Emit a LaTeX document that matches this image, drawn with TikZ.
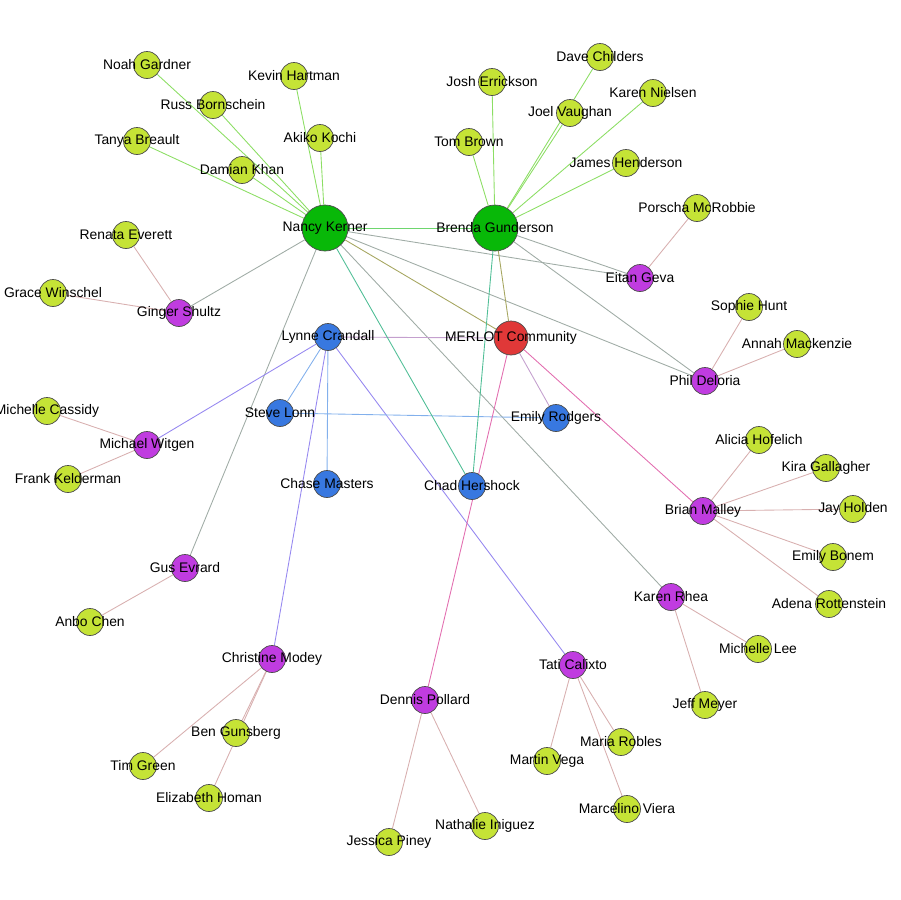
\documentclass[tikz,border=0pt]{standalone}
\usepackage{fontspec}
\setmainfont{Liberation Sans}
\usetikzlibrary{backgrounds}
\definecolor{leafgreen}{RGB}{197,227,54}
\definecolor{hubgreen}{RGB}{8,184,8}
\definecolor{merlotred}{RGB}{224,56,56}
\definecolor{staffblue}{RGB}{56,120,224}
\definecolor{facpurple}{RGB}{192,60,224}
\tikzset{vtx/.style={circle,draw=black!70,line width=0.4pt,inner sep=0pt,minimum size=0.54cm,label={center:#1}},
  leaf/.style={vtx=#1,fill=leafgreen},
  hub/.style={vtx=#1,fill=hubgreen,minimum size=0.92cm},
  merlot/.style={vtx=#1,fill=merlotred,minimum size=0.68cm},
  staff/.style={vtx=#1,fill=staffblue},
  fac/.style={vtx=#1,fill=facpurple},
  link/.style={line width=0.5pt},
  greenlink/.style={link,draw={rgb,255:red,140;green,222;blue,100}},
  hublink/.style={link,draw={rgb,255:red,110;green,214;blue,110}},
  graylink/.style={link,draw={rgb,255:red,160;green,172;blue,166}},
  roselink/.style={link,draw={rgb,255:red,216;green,176;blue,176}},
  violetlink/.style={link,draw={rgb,255:red,150;green,136;blue,240}},
  bluelink/.style={link,draw={rgb,255:red,130;green,176;blue,236}},
  pinklink/.style={link,draw={rgb,255:red,226;green,110;blue,176}},
  lilaclink/.style={link,draw={rgb,255:red,196;green,160;blue,206}},
  olivelink/.style={link,draw={rgb,255:red,166;green,166;blue,96}},
  teallink/.style={link,draw={rgb,255:red,80;green,190;blue,150}}}

\begin{document}
\begin{tikzpicture}[x=0.02cm,y=-0.02cm,font=\fontsize{7.9}{9}\selectfont]
\useasboundingbox (0,0) rectangle (900,900);
\node[hub=Nancy Kerner] (nk) at (325,228) {};
\node[hub=Brenda Gunderson] (bg) at (495,228) {};
\node[merlot=MERLOT Community] (mc) at (511,338) {};
\node[staff=Lynne Crandall] (lc) at (328,337) {};
\node[staff=Steve Lonn] (sl) at (280,413) {};
\node[staff=Chase Masters] (cms) at (327,484) {};
\node[staff=Emily Rodgers] (er) at (556,418) {};
\node[staff=Chad Hershock] (ch) at (472,486) {};
\node[fac=Ginger Shultz] (gs) at (179,313) {};
\node[fac=Eitan Geva] (eg) at (640,278) {};
\node[fac=Phil Deloria] (pd) at (705,381) {};
\node[fac=Michael Witgen] (mw) at (147,445) {};
\node[fac=Gus Evrard] (ge) at (185,568) {};
\node[fac=Brian Malley] (bm) at (703,511) {};
\node[fac=Karen Rhea] (kr) at (671,597) {};
\node[fac=Christine Modey] (cmo) at (272,659) {};
\node[fac=Dennis Pollard] (dp) at (425,700) {};
\node[fac=Tati Calixto] (tc) at (573,665) {};
\node[leaf=Noah Gardner] (ng) at (147,65) {};
\node[leaf=Kevin Hartman] (kh) at (294,76) {};
\node[leaf=Russ Bornschein] (rb) at (213,105) {};
\node[leaf=Tanya Breault] (tb) at (137,141) {};
\node[leaf=Akiko Kochi] (ak) at (320,138) {};
\node[leaf=Damian Khan] (dk) at (242,170) {};
\node[leaf=Renata Everett] (re) at (126,235) {};
\node[leaf=Grace Winschel] (gw) at (53,293) {};
\node[leaf=Dave Childers] (dc) at (600,57) {};
\node[leaf=Josh Errickson] (je) at (492,82) {};
\node[leaf=Karen Nielsen] (kn) at (653,93) {};
\node[leaf=Joel Vaughan] (jv) at (570,113) {};
\node[leaf=Tom Brown] (tbr) at (469,142) {};
\node[leaf=James Henderson] (jh) at (626,163) {};
\node[leaf=Porscha McRobbie] (pm) at (697,208) {};
\node[leaf=Sophie Hunt] (sh) at (749,307) {};
\node[leaf=Annah Mackenzie] (am) at (797,344) {};
\node[leaf=Michelle Cassidy] (mca) at (47,411) {};
\node[leaf=Frank Kelderman] (fk) at (68,479) {};
\node[leaf=Alicia Hofelich] (ah) at (759,440) {};
\node[leaf=Kira Gallagher] (kg) at (826,468) {};
\node[leaf=Jay Holden] (jho) at (853,509) {};
\node[leaf=Emily Bonem] (eb) at (833,557) {};
\node[leaf=Adena Rottenstein] (ar) at (829,604) {};
\node[leaf=Anbo Chen] (ac) at (90,622) {};
\node[leaf=Michelle Lee] (ml) at (758,649) {};
\node[leaf=Jeff Meyer] (jm) at (705,705) {};
\node[leaf=Ben Gunsberg] (bgu) at (236,733) {};
\node[leaf=Tim Green] (tg) at (143,766) {};
\node[leaf=Elizabeth Homan] (eh) at (209,798) {};
\node[leaf=Jessica Piney] (jp) at (389,842) {};
\node[leaf=Nathalie Iniguez] (ni) at (485,826) {};
\node[leaf=Martin Vega] (mv) at (547,761) {};
\node[leaf=Maria Robles] (mr) at (621,742) {};
\node[leaf=Marcelino Viera] (mvi) at (627,809) {};
\begin{scope}[on background layer]
\foreach \a/\b in {nk/ng,nk/rb,nk/tb,nk/dk,nk/kh,nk/ak,bg/je,bg/tbr,bg/jv,bg/dc,bg/kn,bg/jh}
  \draw[greenlink] (\a)--(\b);
\draw[hublink] (nk)--(bg);
\foreach \a/\b in {nk/gs,nk/ge,nk/eg,nk/pd,nk/kr,bg/eg,bg/pd}
  \draw[graylink] (\a)--(\b);
\foreach \a/\b in {gs/re,gs/gw,eg/pm,pd/sh,pd/am,mw/mca,mw/fk,ge/ac,bm/ah,bm/kg,bm/jho,bm/eb,bm/ar,
  kr/ml,kr/jm,cmo/tg,cmo/bgu,cmo/eh,dp/jp,dp/ni,tc/mv,tc/mr,tc/mvi}
  \draw[roselink] (\a)--(\b);
\foreach \b in {mw,cmo,tc}
  \draw[violetlink] (lc)--(\b);
\foreach \a/\b in {lc/sl,lc/cms,sl/er}
  \draw[bluelink] (\a)--(\b);
\foreach \b in {bm,dp}
  \draw[pinklink] (mc)--(\b);
\foreach \b in {lc,er}
  \draw[lilaclink] (mc)--(\b);
\foreach \a in {nk,bg}
  \draw[olivelink] (\a)--(mc);
\foreach \a in {nk,bg}
  \draw[teallink] (\a)--(ch);
\end{scope}
\end{tikzpicture}
\end{document}
